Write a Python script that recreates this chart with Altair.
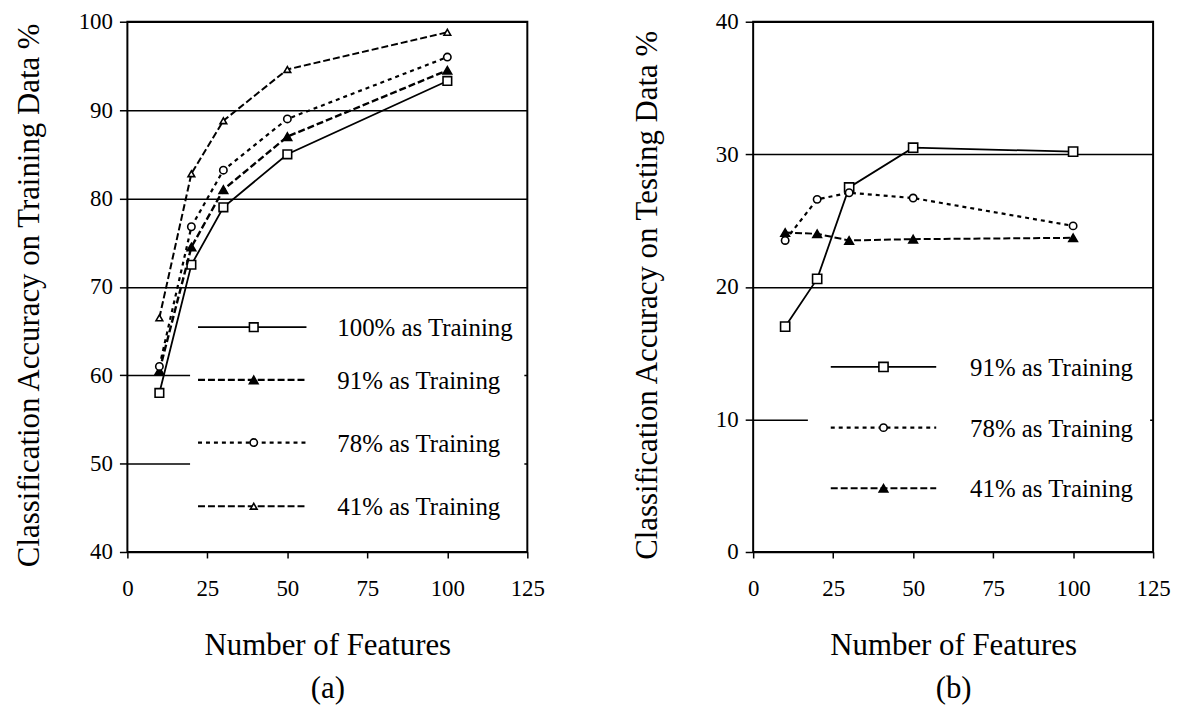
import altair as alt
import pandas as pd

# ---------------- data ----------------
features = [10, 20, 30, 50, 100]

train_100 = [58.0, 72.5, 79.0, 85.0, 93.3]
train_91 = [60.5, 74.5, 81.0, 87.0, 94.5]
train_78 = [61.0, 76.8, 83.2, 89.0, 96.0]
train_41 = [66.5, 82.8, 88.8, 94.6, 98.8]

test_91 = [17.0, 20.6, 27.5, 30.5, 30.2]
test_78 = [23.5, 26.6, 27.1, 26.7, 24.6]
test_41 = [24.1, 24.0, 23.5, 23.6, 23.7]

train_series = ["100% as Training", "91% as Training", "78% as Training", "41% as Training"]
test_series = ["91% as Training", "78% as Training", "41% as Training"]

x_ticks = [0, 25, 50, 75, 100, 125]
train_ticks = [40, 50, 60, 70, 80, 90, 100]
test_ticks = [0, 10, 20, 30, 40]

FONT = "Liberation Serif"
H = 533


def long_df(series_names, values_list):
    rows = []
    for name, vals in zip(series_names, values_list):
        for f, v in zip(features, vals):
            rows.append({"features": f, "value": v, "series": name})
    return pd.DataFrame(rows)


def panel(df, series_names, styles, ydom, yticks, ytitle, sub, title_pad, width,
          box, leg_rows, leg_line, leg_mark, leg_text):
    x = alt.X("features:Q",
              scale=alt.Scale(domain=[0, 125], nice=False),
              axis=alt.Axis(values=x_ticks, grid=False, domain=False,
                            tickSize=6, tickColor="black", tickWidth=1.5,
                            labelPadding=20, labelFontSize=23, labelFont=FONT,
                            labelColor="black", title=["Number of Features", sub],
                            titleFont=FONT, titleFontSize=31, titleFontWeight="normal",
                            titleColor="black", titlePadding=30, titleLineHeight=43,
                            labelFlush=False))
    y = alt.Y("value:Q",
              scale=alt.Scale(domain=ydom, nice=False, zero=False),
              axis=alt.Axis(values=yticks, grid=True, gridColor="black",
                            gridWidth=1.5, gridOpacity=1, domain=False,
                            tickSize=8, tickColor="black", tickWidth=1.5,
                            labelPadding=7, labelFontSize=23, labelFont=FONT,
                            labelColor="black", title=ytitle, titleFont=FONT,
                            titleFontSize=31, titleFontWeight="normal",
                            titleColor="black", titlePadding=title_pad,
                            titleY=H / 2 + 8))
    one = pd.DataFrame({"k": [0]})
    layers = []
    # invisible base to own the axes
    layers.append(alt.Chart(df).mark_point(opacity=0).encode(x=x, y=y))
    # white legend background (covers the grid lines)
    layers.append(alt.Chart(one).mark_rect(fill="white").encode(
        x=alt.value(box[0]), x2=alt.value(box[1]),
        y=alt.value(box[2]), y2=alt.value(box[3])))
    for name in series_names:
        st = styles[name]
        sub_df = df[df["series"] == name]
        line_kw = dict(color="black", strokeWidth=st["w"])
        if st["dash"]:
            line_kw["strokeDash"] = st["dash"]
        layers.append(alt.Chart(sub_df).mark_line(**line_kw).encode(
            x="features:Q", y="value:Q"))
        layers.append(alt.Chart(sub_df).mark_point(
            shape=st["shape"], size=st["size"], filled=True,
            fill="black" if st["filled"] else "white",
            stroke="black", strokeWidth=1.6, opacity=1).encode(
            x="features:Q", y="value:Q"))
    # legend
    for name, ry in zip(series_names, leg_rows):
        st = styles[name]
        lab = pd.DataFrame({"label": [name]})
        rule_kw = dict(color="black", strokeWidth=st["w"])
        if st["dash"]:
            rule_kw["strokeDash"] = st["dash"]
        layers.append(alt.Chart(lab).mark_rule(**rule_kw).encode(
            x=alt.value(leg_line[0]), x2=alt.value(leg_line[1]), y=alt.value(ry)))
        layers.append(alt.Chart(lab).mark_point(
            shape=st["shape"], size=st["size"], filled=True,
            fill="black" if st["filled"] else "white",
            stroke="black", strokeWidth=1.6, opacity=1).encode(
            x=alt.value(leg_mark), y=alt.value(ry)))
        layers.append(alt.Chart(lab).mark_text(
            align="left", baseline="middle", font=FONT, fontSize=25,
            color="black").encode(
            x=alt.value(leg_text), y=alt.value(ry + 1), text="label:N"))
    return alt.layer(*layers).properties(width=width, height=H)


train_styles = {
    "100% as Training": dict(dash=None, w=1.8, shape="square", size=75, filled=False),
    "91% as Training": dict(dash=[7, 3], w=2.4, shape="triangle-up", size=75, filled=True),
    "78% as Training": dict(dash=[4, 4], w=2.2, shape="circle", size=55, filled=False),
    "41% as Training": dict(dash=[7, 3], w=2.0, shape="triangle-up", size=45, filled=False),
}
test_styles = {
    "91% as Training": dict(dash=None, w=1.8, shape="square", size=85, filled=False),
    "78% as Training": dict(dash=[4, 4], w=2.2, shape="circle", size=55, filled=False),
    "41% as Training": dict(dash=[7, 3], w=2.0, shape="triangle-up", size=75, filled=True),
}

df_train = long_df(train_series, [train_100, train_91, train_78, train_41])
df_test = long_df(test_series, [test_91, test_78, test_41])

left = panel(df_train, train_series, train_styles, [40, 100], train_ticks,
             "Classification Accuracy on Training Data %", "(a)", 33, 402,
             box=(63, 399, 275, 528), leg_rows=[307, 360, 423, 487],
             leg_line=(71, 180), leg_mark=127, leg_text=211)
right = panel(df_test, test_series, test_styles, [0, 40], test_ticks,
              "Classification Accuracy on Testing Data %", "(b)", 52, 402,
              box=(55, 399, 285, 528), leg_rows=[347, 408, 469],
              leg_line=(78, 184), leg_mark=131, leg_text=218)

chart = alt.hconcat(left, right, spacing=84).configure(
    padding={"left": 4, "right": 0, "top": 0, "bottom": 0},
    font=FONT,
).configure_view(stroke="black", strokeWidth=2)

chart.save("out.html", embed_options={"renderer": "svg", "actions": False})
